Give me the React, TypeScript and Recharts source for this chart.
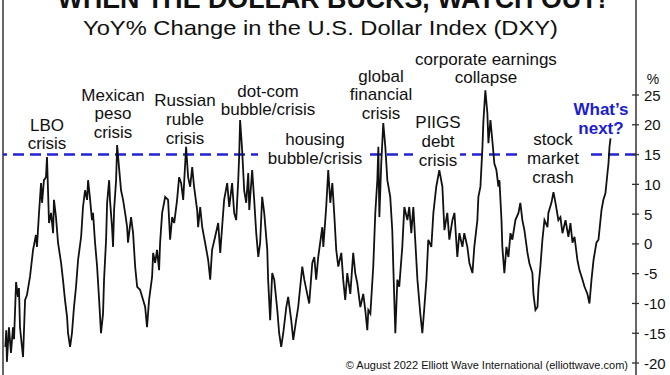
import React from 'react';
import { LineChart, Line, XAxis, YAxis, ReferenceLine } from 'recharts';

// Decimal-year dates and YoY % change of the U.S. Dollar Index
const dates = [
  1986.90, 1986.95, 1986.99, 1987.11, 1987.23, 1987.35, 1987.41, 1987.53, 1987.64, 1987.70,
  1987.76, 1987.94, 1988.06, 1988.17, 1988.35, 1988.53, 1988.70, 1988.76, 1988.88, 1989.00,
  1989.06, 1989.17, 1989.29, 1989.35, 1989.47, 1989.59, 1989.71, 1989.76, 1989.88, 1990.00,
  1990.18, 1990.29, 1990.41, 1990.53, 1990.59, 1990.71, 1990.82, 1990.94, 1991.06, 1991.18,
  1991.36, 1991.47, 1991.59, 1991.71, 1991.77, 1991.89, 1992.00, 1992.06, 1992.18, 1992.30,
  1992.42, 1992.53, 1992.65, 1992.71, 1992.83, 1992.89, 1993.01, 1993.06, 1993.18, 1993.24,
  1993.30, 1993.42, 1993.48, 1993.59, 1993.71, 1993.83, 1993.95, 1994.07, 1994.12, 1994.30,
  1994.42, 1994.54, 1994.66, 1994.83, 1995.01, 1995.13, 1995.24, 1995.36, 1995.54, 1995.60,
  1995.72, 1995.83, 1995.95, 1996.01, 1996.13, 1996.31, 1996.48, 1996.60, 1996.72, 1996.84,
  1997.01, 1997.13, 1997.25, 1997.37, 1997.54, 1997.66, 1997.78, 1997.90, 1998.01, 1998.19,
  1998.25, 1998.37, 1998.49, 1998.66, 1998.84, 1998.96, 1999.07, 1999.25, 1999.43, 1999.55,
  1999.66, 1999.78, 1999.96, 2000.08, 2000.25, 2000.37, 2000.49, 2000.61, 2000.67, 2000.72,
  2000.84, 2000.96, 2001.08, 2001.20, 2001.26, 2001.43, 2001.55, 2001.67, 2001.79, 2001.90,
  2002.02, 2002.14, 2002.32, 2002.37, 2002.49, 2002.61, 2002.73, 2002.91, 2003.02, 2003.14,
  2003.26, 2003.44, 2003.55, 2003.73, 2003.85, 2004.02, 2004.14, 2004.38, 2004.50, 2004.67,
  2004.79, 2004.97, 2005.09, 2005.20, 2005.32, 2005.56, 2005.62, 2005.79, 2005.91, 2006.03,
  2006.15, 2006.26, 2006.38, 2006.50, 2006.68, 2006.79, 2006.91, 2007.03, 2007.21, 2007.38,
  2007.50, 2007.62, 2007.80, 2007.97, 2008.09, 2008.21, 2008.27, 2008.39, 2008.56, 2008.68,
  2008.80, 2008.86, 2008.92, 2009.03, 2009.15, 2009.27, 2009.39, 2009.56, 2009.68, 2009.74,
  2009.86, 2009.98, 2010.09, 2010.27, 2010.39, 2010.57, 2010.68, 2010.80, 2010.92, 2011.04,
  2011.16, 2011.33, 2011.45, 2011.57, 2011.69, 2011.80, 2011.98, 2012.10, 2012.27, 2012.45,
  2012.63, 2012.75, 2012.92, 2013.04, 2013.22, 2013.34, 2013.51, 2013.63, 2013.81, 2013.92,
  2014.10, 2014.22, 2014.40, 2014.51, 2014.69, 2014.75, 2014.87, 2014.99, 2015.04, 2015.16,
  2015.28, 2015.34, 2015.46, 2015.57, 2015.69, 2015.81, 2015.93, 2015.99, 2016.11, 2016.16,
  2016.28, 2016.40, 2016.52, 2016.64, 2016.75, 2016.93, 2017.11, 2017.22, 2017.34, 2017.46,
  2017.64, 2017.75, 2017.93, 2017.99, 2018.11, 2018.23, 2018.29, 2018.40, 2018.52, 2018.64,
  2018.82, 2018.87, 2019.05, 2019.17, 2019.29, 2019.46, 2019.58, 2019.70, 2019.88, 2020.05,
  2020.17, 2020.29, 2020.41, 2020.58, 2020.70, 2020.88, 2021.00, 2021.17, 2021.29, 2021.41,
  2021.53, 2021.70, 2021.82, 2022.00, 2022.11, 2022.23, 2022.35, 2022.41, 2022.47, 2022.53,
];

const yoyChange = [
  -17.3, -14.5, -19.8, -14.0, -18.3, -14.0, -16.0, -6.4, -8.9, -7.4,
  -14.0, -19.0, -9.4, -8.6, -5.5, -1.0, 1.5, -0.5, 5.2, 10.2,
  6.9, 10.7, 11.2, 14.6, 3.5, 5.2, 1.8, 7.4, 4.5, 0.2,
  -3.2, -6.0, -9.4, -12.2, -15.0, -17.3, -15.0, -10.6, -7.2, -2.7,
  1.2, 6.2, 9.0, 7.4, 10.7, 7.4, 4.0, 5.2, 0.2, -3.8,
  -9.4, -15.0, -11.7, -6.0, 0.7, 6.9, 10.7, 7.4, 2.8, -0.5,
  5.7, 10.7, 16.6, 12.9, 9.0, 7.4, 5.2, 2.8, 0.2, 4.5,
  1.8, -3.8, -7.2, -7.7, -9.4, -10.6, -14.0, -9.4, -5.5, -1.5,
  -3.2, -1.0, -4.4, 0.2, 5.2, 7.9, 7.4, 0.7, 4.5, 3.5,
  7.4, 11.2, 10.2, 7.4, 16.3, 11.2, 9.6, 12.9, 9.6, 5.7,
  2.8, 6.2, 2.8, 0.2, -2.7, -6.0, -1.0, 1.2, 3.5, -1.5,
  2.8, 7.4, 10.2, 6.2, 10.2, 5.2, 4.0, 10.7, 15.2, 20.8,
  15.8, 9.0, 6.9, 11.9, 5.7, 12.4, 7.4, 1.8, -2.2, 0.2,
  7.9, 5.2, -1.0, -6.0, -12.8, -4.9, -6.0, -11.1, -15.0, -17.3,
  -15.0, -10.6, -8.9, -12.8, -16.1, -12.8, -10.6, -3.8, -6.0, -8.4,
  -10.0, -3.2, -2.2, -6.0, -2.2, 2.8, -0.5, 6.2, 12.4, 6.9,
  10.2, 5.2, -1.0, -3.8, -1.5, -6.0, -9.4, -4.9, -8.4, -1.5,
  -4.9, -6.6, -10.6, -8.4, -11.1, -14.5, -11.1, -11.7, -3.8, 5.2,
  10.7, 16.3, 4.5, 13.5, 20.3, 16.3, 10.7, 7.9, 2.3, -3.8,
  -15.0, -6.0, -7.2, -0.5, 6.2, 4.0, 6.2, 1.8, 6.2, 0.2,
  -6.0, -11.7, -15.0, -10.6, -6.0, 0.7, -0.5, 5.2, 9.6, 12.4,
  9.6, 2.3, 5.2, 0.7, 4.0, 5.2, -2.2, 1.8, -0.5, 1.8,
  -0.5, -3.2, -4.9, -0.5, 4.0, 7.9, 9.6, 16.3, 20.3, 25.8,
  21.9, 16.9, 20.8, 17.4, 13.5, 12.4, 9.6, 10.7, 4.0, -0.5,
  -4.9, -0.5, -2.2, 1.8, 0.7, 4.0, 5.2, 6.9, 4.0, 2.3,
  -1.5, -3.2, -4.9, -8.4, -11.1, -10.6, -7.2, -3.8, 0.7, 4.0,
  2.8, 5.2, 6.9, 8.7, 6.9, 4.0, 4.5, 1.8, 4.0, 1.2,
  3.5, 0.2, 1.2, -2.7, -4.4, -6.0, -7.2, -8.4, -10.0, -6.0,
  -2.7, 0.2, 0.7, 5.7, 7.4, 8.5, 11.9, 13.5, 16.3, 17.7,
];

const yTicks = [-20, -15, -10, -5, 0, 5, 10, 15, 20, 25];
const decadeTicks = [1990, 2000, 2010, 2020];
const threshold = 15;
const xDomain: [number, number] = [1986.76, 2024.03];
const yDomain: [number, number] = [-22.01, 40.95];

const data = dates.map((d, i) => ({ date: d, yoy: yoyChange[i] }));

const FONT = '"Liberation Sans", Arial, Helvetica, sans-serif';
const BLUE = '#2323d4';
const TICK_SIZE = 4;
const TICK_MARGIN = 5;

const RightTick = (props: any) => {
  const { x, y, payload } = props;
  const axisX = x - TICK_SIZE - TICK_MARGIN;
  return (
    <g>
      <line x1={axisX - 4} x2={axisX + 3} y1={y} y2={y} stroke="#333" strokeWidth={1.3} />
      <text x={axisX + 8} y={y + 5.5} fontSize={15} fill="#111" fontFamily={FONT} textAnchor="start">
        {payload.value}
      </text>
    </g>
  );
};

type Note = { cx: number; base: number; lines: string[]; blue?: boolean };
const notes: Note[] = [
  { cx: 47, base: 130.5, lines: ['LBO', 'crisis'] },
  { cx: 113, base: 100.5, lines: ['Mexican', 'peso', 'crisis'] },
  { cx: 185, base: 106, lines: ['Russian', 'ruble', 'crisis'] },
  { cx: 268, base: 96.5, lines: ['dot-com', 'bubble/crisis'] },
  { cx: 315, base: 145, lines: ['housing', 'bubble/crisis'] },
  { cx: 381, base: 81.5, lines: ['global', 'financial', 'crisis'] },
  { cx: 486, base: 64.5, lines: ['corporate earnings', 'collapse'] },
  { cx: 438, base: 128.3, lines: ['PIIGS', 'debt', 'crisis'] },
  { cx: 553, base: 145, lines: ['stock', 'market', 'crash'] },
  { cx: 601, base: 115, lines: ['What\u2019s', 'next?'], blue: true },
];

const masks = [
  [258, 366],
  [413, 460],
  [518, 588],
];

export default function App() {
  return (
    <div style={{ position: 'absolute', left: 0, top: 0, width: 670, height: 375, background: '#fff', overflow: 'hidden' }}>
      <LineChart width={670} height={375} data={data} margin={{ top: 0, right: 0, bottom: 0, left: 3 }}>
        <XAxis
          dataKey="date"
          type="number"
          domain={xDomain}
          ticks={decadeTicks}
          allowDataOverflow
          height={0}
          mirror
          axisLine={false}
          tick={false}
          tickSize={5}
          tickLine={{ stroke: '#333', strokeWidth: 1.2 }}
        />
        <YAxis
          orientation="right"
          type="number"
          domain={yDomain}
          ticks={yTicks}
          allowDataOverflow
          width={34}
          tickSize={TICK_SIZE}
          tickMargin={TICK_MARGIN}
          tickLine={false}
          axisLine={{ stroke: '#333', strokeWidth: 1.5 }}
          tick={<RightTick />}
        />
        <ReferenceLine x={xDomain[0]} stroke="#333" strokeWidth={1.5} />
        <ReferenceLine y={threshold} stroke={BLUE} strokeWidth={2.5} strokeDasharray="11 6" />
        <Line
          type="linear"
          dataKey="yoy"
          stroke="#111"
          strokeWidth={1.8}
          dot={false}
          isAnimationActive={false}
        />
      </LineChart>
      <svg width={670} height={375} style={{ position: 'absolute', left: 0, top: 0, pointerEvents: 'none' }}>
        {masks.map(([a, b], i) => (
          <rect key={i} x={a} y={149} width={b - a} height={10} fill="#fff" />
        ))}
        <text x={332} y={7.5} fontSize={26.8} fontWeight="bold" fill="#111" fontFamily={FONT} textAnchor="middle">
          WHEN THE DOLLAR BUCKS, WATCH OUT!
        </text>
        <text x={83} y={35} fontSize={21} fill="#111" fontFamily={FONT} textLength={475} lengthAdjust="spacingAndGlyphs">
          YoY% Change in the U.S. Dollar Index (DXY)
        </text>
        {notes.map((n, i) => (
          <text
            key={i}
            fontSize={17}
            fontWeight={n.blue ? 'bold' : 'normal'}
            fill={n.blue ? '#1c1cd0' : '#111'}
            fontFamily={FONT}
            textAnchor="middle"
          >
            {n.lines.map((l, j) => (
              <tspan key={j} x={n.cx} y={n.base + j * 18.8}>
                {l}
              </tspan>
            ))}
          </text>
        ))}
        <text x={653} y={83.5} fontSize={14} fill="#111" fontFamily={FONT} textAnchor="middle">
          %
        </text>
        <text x={628} y={368.5} fontSize={11} fill="#111" fontFamily={FONT} textAnchor="end">
          © August 2022 Elliott Wave International (elliottwave.com)
        </text>
      </svg>
    </div>
  );
}
